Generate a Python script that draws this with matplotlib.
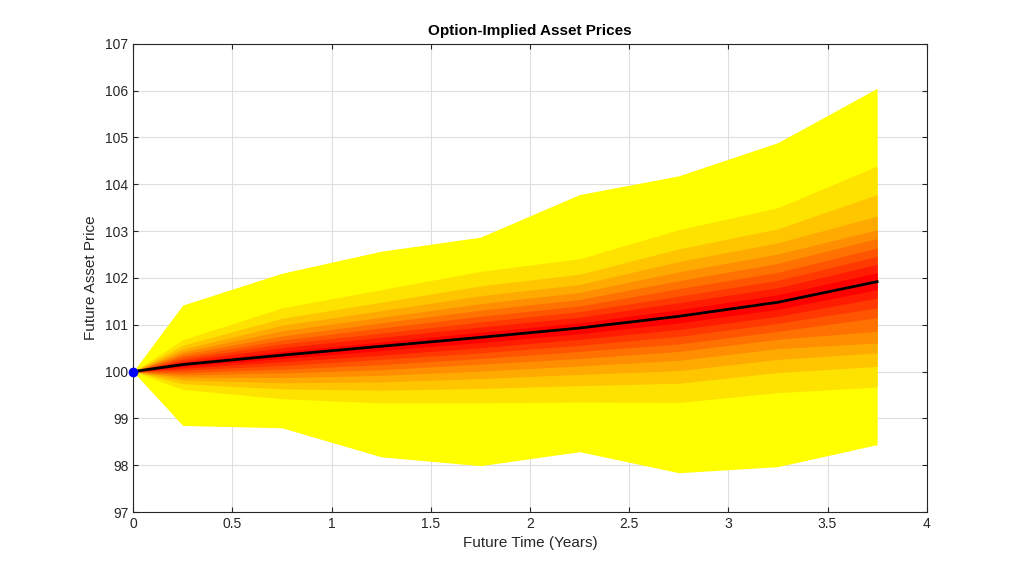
import matplotlib

matplotlib.use("Agg")

import matplotlib.pyplot as plt
import numpy as np

plt.rcParams["font.family"] = ["Liberation Sans", "DejaVu Sans"]

# forecast horizon (years)
times = [0, 0.25, 0.75, 1.25, 1.75, 2.25, 2.75, 3.25, 3.75]

# quantiles of the implied price distribution
q01 = [100, 98.85, 98.80, 98.18, 97.99, 98.29, 97.84, 97.97, 98.44]
q05 = [100, 99.62, 99.42, 99.33, 99.33, 99.35, 99.34, 99.55, 99.67]
q10 = [100, 99.74, 99.63, 99.60, 99.64, 99.70, 99.75, 99.98, 100.11]
q15 = [100, 99.82, 99.76, 99.78, 99.85, 99.94, 100.02, 100.26, 100.40]
q20 = [100, 99.88, 99.87, 99.92, 100.01, 100.12, 100.24, 100.49, 100.61]
q25 = [100, 99.93, 99.97, 100.04, 100.16, 100.28, 100.43, 100.69, 100.86]
q30 = [100, 99.98, 100.05, 100.15, 100.28, 100.43, 100.59, 100.86, 101.15]
q35 = [100, 100.03, 100.13, 100.26, 100.40, 100.56, 100.75, 101.03, 101.36]
q40 = [100, 100.07, 100.21, 100.35, 100.51, 100.69, 100.90, 101.18, 101.57]
q45 = [100, 100.11, 100.28, 100.45, 100.62, 100.81, 101.04, 101.33, 101.75]
median = [100, 100.15, 100.35, 100.54, 100.73, 100.93, 101.18, 101.48, 101.92]
q55 = [100, 100.19, 100.43, 100.63, 100.84, 101.04, 101.32, 101.64, 102.11]
q60 = [100, 100.23, 100.51, 100.73, 100.95, 101.16, 101.47, 101.79, 102.29]
q65 = [100, 100.27, 100.59, 100.82, 101.06, 101.28, 101.61, 101.95, 102.46]
q70 = [100, 100.32, 100.67, 100.93, 101.18, 101.40, 101.77, 102.12, 102.64]
q75 = [100, 100.37, 100.76, 101.04, 101.31, 101.54, 101.94, 102.31, 102.84]
q80 = [100, 100.42, 100.87, 101.16, 101.45, 101.69, 102.13, 102.51, 103.03]
q85 = [100, 100.48, 100.99, 101.30, 101.62, 101.86, 102.35, 102.75, 103.32]
q90 = [100, 100.56, 101.14, 101.48, 101.83, 102.08, 102.62, 103.05, 103.78]
q95 = [100, 100.68, 101.36, 101.75, 102.14, 102.41, 103.03, 103.50, 104.39]
q99 = [100, 101.42, 102.10, 102.57, 102.87, 103.78, 104.18, 104.89, 106.05]

lower = [q01, q05, q10, q15, q20, q25, q30, q35, q40, q45]
upper = [q99, q95, q90, q85, q80, q75, q70, q65, q60, q55]

fig = plt.figure(figsize=(10.24, 5.76), dpi=100)
ax = fig.add_axes([0.13, 0.111, 0.775, 0.813])

# nested bands, outer yellow -> inner red (autumn-like)
n = len(lower)
for k, (lo, hi) in enumerate(zip(lower, upper)):
    g = 1.0 - k / (n - 1)
    ax.fill_between(times, lo, hi, color=(1.0, g, 0.0), linewidth=0, zorder=2)

ax.plot(times, median, color="black", linewidth=2, zorder=3)
ax.plot([times[0]], [median[0]], "o", color="#0000ff", markersize=6, zorder=4, clip_on=False)

ax.set_xlim(0, 4)
ax.set_ylim(97, 107)
ax.set_xticks(np.arange(0, 4.01, 0.5))
ax.set_xticklabels(["0", "0.5", "1", "1.5", "2", "2.5", "3", "3.5", "4"])
ax.set_yticks(range(97, 108))
ax.grid(True, color="#dedede", linewidth=0.8, zorder=0)
ax.set_axisbelow(True)
for s in ax.spines.values():
    s.set_color("#262626")
    s.set_linewidth(0.8)
ax.tick_params(direction="in", top=True, right=True, labelsize=10, colors="#262626", length=3.5)

ax.set_title("Option-Implied Asset Prices", fontsize=11, fontweight="bold", color="black")
ax.set_xlabel("Future Time (Years)", fontsize=11, color="#262626")
ax.set_ylabel("Future Asset Price", fontsize=11, color="#262626", labelpad=5)

fig.savefig("out.png", dpi=100)
